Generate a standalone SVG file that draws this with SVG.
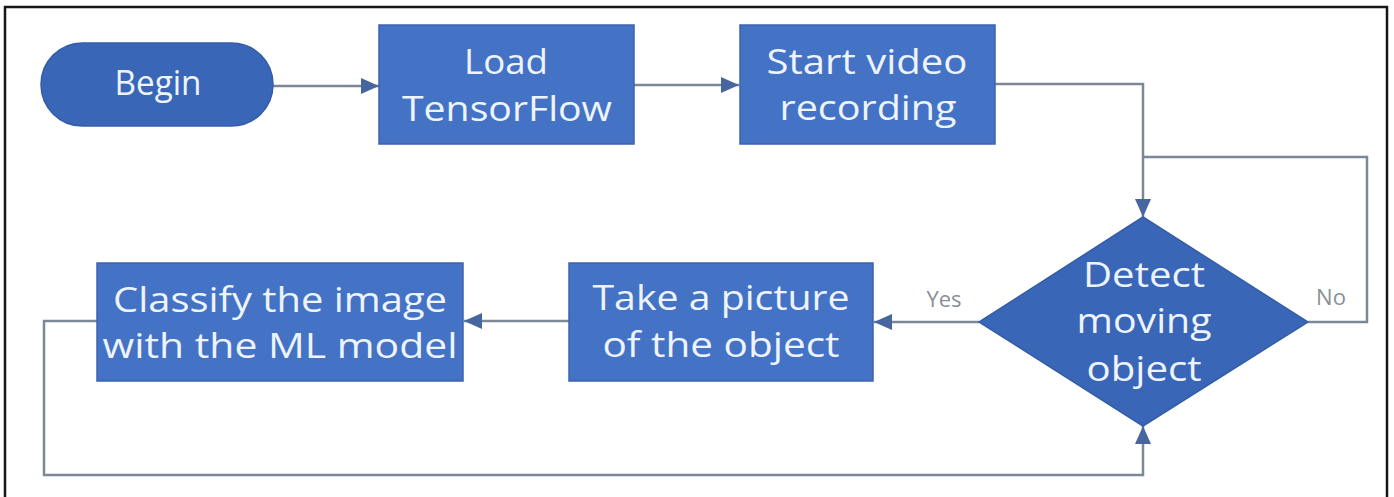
<svg xmlns="http://www.w3.org/2000/svg" width="1394" height="497" viewBox="0 0 1394 497">
  <style>
    .box { fill: #4472C4; stroke: #3B64B0; stroke-width: 1.5; }
    .term { fill: #3A66B8; stroke: #345CA8; stroke-width: 1.5; }
    .lbl { font-family: "Open Sans", "Noto Sans", "DejaVu Sans", sans-serif; font-size: 34px; fill: #EEF4FF; text-anchor: middle; }
    .edge { fill: none; stroke: #7D8796; stroke-width: 2.5; }
    .tag { font-family: "Open Sans", "Noto Sans", "DejaVu Sans", sans-serif; font-size: 22px; fill: #8A8F96; text-anchor: middle; }
  </style>
  <defs>
    <marker id="arrow" markerUnits="userSpaceOnUse" markerWidth="18" markerHeight="16" refX="18" refY="8" orient="auto">
      <path d="M0,0 L18,8 L0,16 z" fill="#47669F"/>
    </marker>
  </defs>

  <rect width="1394" height="497" fill="#FFFFFF"/>
  <!-- outer frame (bottom edge runs past the canvas) -->
  <rect x="5" y="7" width="1382" height="500" fill="none" stroke="#161616" stroke-width="2.5"/>

  <g id="connectors">
    <path class="edge" d="M273,86 H379" marker-end="url(#arrow)"/>
    <path class="edge" d="M634,85 H739" marker-end="url(#arrow)"/>
    <path class="edge" d="M995,84 H1143 V217" marker-end="url(#arrow)"/>
    <path class="edge" d="M1308,322 H1367 V157 H1143"/>
    <path class="edge" d="M979,322 H874" marker-end="url(#arrow)"/>
    <path class="edge" d="M569,321 H464" marker-end="url(#arrow)"/>
    <path class="edge" d="M97,321 H44 V475 H1143 V426" marker-end="url(#arrow)"/>
    <text class="tag" x="944" y="307">Yes</text>
    <text class="tag" x="1331" y="305">No</text>
  </g>

  <g id="begin">
    <rect class="term" x="41" y="43" width="232" height="83" rx="41.5" ry="41.5"/>
    <text class="lbl" x="158" y="95" font-size="28" textLength="87" lengthAdjust="spacingAndGlyphs">Begin</text>
  </g>

  <g id="load-tensorflow">
    <rect class="box" x="379" y="25" width="255" height="119"/>
    <text class="lbl" x="506" y="74" textLength="84" lengthAdjust="spacingAndGlyphs">Load</text>
    <text class="lbl" x="507" y="121" textLength="210" lengthAdjust="spacingAndGlyphs">TensorFlow</text>
  </g>

  <g id="start-video">
    <rect class="box" x="740" y="25" width="255" height="119"/>
    <text class="lbl" x="867" y="74" textLength="201" lengthAdjust="spacingAndGlyphs">Start video</text>
    <text class="lbl" x="868" y="120" textLength="177" lengthAdjust="spacingAndGlyphs">recording</text>
  </g>

  <g id="detect-moving-object">
    <polygon class="term" points="1143,217 1308,322 1143,426 979,322"/>
    <text class="lbl" x="1144" y="287" textLength="122" lengthAdjust="spacingAndGlyphs">Detect</text>
    <text class="lbl" x="1144" y="333" textLength="135" lengthAdjust="spacingAndGlyphs">moving</text>
    <text class="lbl" x="1144" y="381" textLength="115" lengthAdjust="spacingAndGlyphs">object</text>
  </g>

  <g id="take-picture">
    <rect class="box" x="569" y="263" width="304" height="118"/>
    <text class="lbl" x="721" y="310" textLength="257" lengthAdjust="spacingAndGlyphs">Take a picture</text>
    <text class="lbl" x="721" y="357" textLength="237" lengthAdjust="spacingAndGlyphs">of the object</text>
  </g>

  <g id="classify-image">
    <rect class="box" x="97" y="263" width="366" height="118"/>
    <text class="lbl" x="280" y="312" textLength="334" lengthAdjust="spacingAndGlyphs">Classify the image</text>
    <text class="lbl" x="280" y="358" textLength="355" lengthAdjust="spacingAndGlyphs">with the ML model</text>
  </g>
</svg>
